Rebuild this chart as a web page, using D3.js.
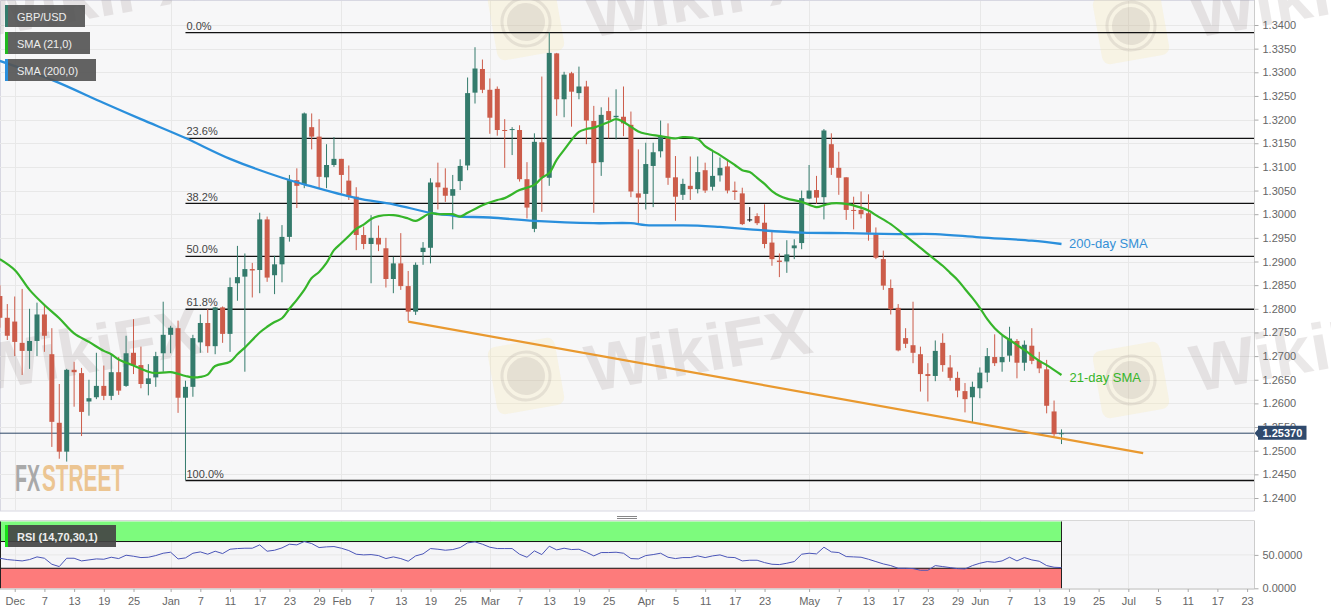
<!DOCTYPE html>
<html><head><meta charset="utf-8">
<script src="https://cdn.jsdelivr.net/npm/d3@7"></script>
<style>html,body{margin:0;padding:0;background:#fff;overflow:hidden}svg{display:block;font-family:"Liberation Sans",Arial,sans-serif}</style>
</head><body><svg id="c" width="1331" height="615"></svg>
<script>
const firstBar=-1;
const highs=[1.2850,1.2810,1.2826,1.2842,1.2800,1.2813,1.2810,1.2759,1.2641,1.2673,
1.2688,1.2675,1.2650,1.2707,1.2680,1.2702,1.2698,1.2743,1.2778,1.2720,
1.2683,1.2709,1.2815,1.2764,1.2775,1.2648,1.2745,1.2788,1.2800,1.2804,
1.2805,1.2866,1.2933,1.2917,1.2897,1.3003,1.2995,1.2912,1.2977,1.3083,
1.3097,1.3215,1.3213,1.3201,1.3148,1.3163,1.3117,1.3103,1.3057,1.2974,
1.2998,1.2976,1.2950,1.2910,1.2960,1.2880,1.2898,1.2941,1.3076,1.3109,
1.3097,1.3083,1.3116,1.3289,1.3353,1.3327,1.3287,1.3270,1.3201,1.3184,
1.3188,1.3110,1.3171,1.3291,1.3384,1.3341,1.3301,1.3301,1.3312,1.3282,
1.3229,1.3226,1.3247,1.3264,1.3270,1.3217,1.3137,1.3151,1.3151,1.3198,
1.3192,1.3123,1.3075,1.3122,1.3122,1.3109,1.3132,1.3120,1.3115,1.3069,
1.3056,1.3015,1.3002,1.3021,1.2963,1.2917,1.2945,1.2947,1.3050,1.3104,
1.3081,1.3180,1.3171,1.3132,1.3078,1.3037,1.3048,1.3042,1.2972,1.2923,
1.2862,1.2810,1.2759,1.2815,1.2720,1.2685,1.2733,1.2748,1.2702,1.2667,
1.2643,1.2646,1.2676,1.2717,1.2746,1.2743,1.2762,1.2736,1.2733,1.2759,
1.2709,1.2692,1.2606,1.2545];
const lows=[1.2760,1.2734,1.2700,1.2660,1.2673,1.2700,1.2709,1.2508,1.2483,1.2477,
1.2593,1.2531,1.2574,1.2609,1.2607,1.2607,1.2618,1.2635,1.2662,1.2632,
1.2617,1.2635,1.2667,1.2706,1.2580,1.2438,1.2614,1.2707,1.2707,1.2704,
1.2728,1.2709,1.2817,1.2667,1.2824,1.2833,1.2857,1.2831,1.2856,1.2942,
1.3013,1.3055,1.3137,1.3055,1.3055,1.3100,1.3044,1.3030,1.2924,1.2926,
1.2854,1.2922,1.2845,1.2833,1.2840,1.2774,1.2787,1.2893,1.2896,1.3010,
1.3026,1.2968,1.3051,1.3093,1.3234,1.3256,1.3170,1.3166,1.3098,1.3125,
1.3069,1.2991,1.2962,1.3005,1.3060,1.3208,1.3205,1.3185,1.3243,1.3148,
1.3003,1.3081,1.3160,1.3158,1.3165,1.3036,1.2979,1.3010,1.3015,1.3120,
1.3062,1.2986,1.3030,1.3030,1.3044,1.3045,1.3050,1.3069,1.3044,1.3030,
1.2977,1.2984,1.2977,1.2928,1.2891,1.2867,1.2876,1.2905,1.2926,1.3032,
1.3022,1.2989,1.3083,1.3041,1.2988,1.2968,1.2991,1.2944,1.2905,1.2840,
1.2788,1.2710,1.2717,1.2685,1.2625,1.2604,1.2647,1.2667,1.2648,1.2613,
1.2581,1.2559,1.2611,1.2645,1.2679,1.2667,1.2688,1.2653,1.2669,1.2683,
1.2664,1.2579,1.2531,1.2514];
const opens=[1.2827,1.2781,1.2773,1.2728,1.2711,1.2732,1.2788,1.2704,1.2559,1.2498,
1.2671,1.2664,1.2604,1.2613,1.2637,1.2616,1.2666,1.2637,1.2707,1.2681,
1.2641,1.2655,1.2706,1.2745,1.2759,1.2612,1.2635,1.2729,1.2770,1.2721,
1.2803,1.2747,1.2854,1.2868,1.2884,1.2882,1.2989,1.2871,1.2894,1.2952,
1.3072,1.3062,1.3184,1.3164,1.3078,1.3104,1.3117,1.3071,1.3037,1.2956,
1.2937,1.2950,1.2928,1.2863,1.2896,1.2848,1.2794,1.2920,1.2929,1.3067,
1.3056,1.3039,1.3070,1.3103,1.3257,1.3307,1.3263,1.3265,1.3178,1.3178,
1.3178,1.3074,1.2969,1.3152,1.3077,1.3340,1.3243,1.3298,1.3256,1.3270,
1.3197,1.3110,1.3218,1.3205,1.3206,1.3189,1.3044,1.3043,1.3102,1.3133,
1.3163,1.3078,1.3041,1.3060,1.3053,1.3093,1.3058,1.3082,1.3101,1.3050,
1.3044,1.2989,1.2996,1.2982,1.2940,1.2902,1.2900,1.2928,1.2939,1.3033,
1.3051,1.3036,1.3148,1.3098,1.3078,1.3009,1.3009,1.3002,1.2957,1.2905,
1.2844,1.2802,1.2738,1.2723,1.2704,1.2662,1.2658,1.2728,1.2676,1.2654,
1.2626,1.2613,1.2632,1.2665,1.2698,1.2687,1.2701,1.2732,1.2686,1.2722,
1.2690,1.2672,1.2583,1.2535];
const closes=[1.2781,1.2743,1.2730,1.2711,1.2732,1.2788,1.2743,1.2561,1.2498,1.2671,
1.2666,1.2582,1.2611,1.2637,1.2616,1.2666,1.2627,1.2706,1.2681,1.2641,
1.2653,1.2700,1.2745,1.2760,1.2612,1.2635,1.2738,1.2770,1.2721,1.2803,
1.2747,1.2846,1.2867,1.2884,1.2881,1.2989,1.2866,1.2894,1.2952,1.3072,
1.3060,1.3213,1.3164,1.3079,1.3104,1.3117,1.3083,1.3037,1.2956,1.2937,
1.2950,1.2936,1.2863,1.2896,1.2848,1.2794,1.2893,1.2929,1.3067,1.3057,
1.3039,1.3053,1.3102,1.3256,1.3308,1.3263,1.3204,1.3178,1.3176,1.3180,
1.3074,1.3014,1.3153,1.3077,1.3341,1.3243,1.3295,1.3259,1.3270,1.3198,
1.3108,1.3210,1.3199,1.3208,1.3192,1.3048,1.3035,1.3106,1.3131,1.3163,
1.3077,1.3037,1.3064,1.3053,1.3089,1.3050,1.3081,1.3098,1.3050,1.3047,
1.2979,1.2989,1.2981,1.2937,1.2905,1.2899,1.2915,1.2934,1.3034,1.3050,
1.3035,1.3177,1.3098,1.3077,1.3009,1.3007,1.3000,1.2961,1.2908,1.2849,
1.2799,1.2712,1.2726,1.2707,1.2662,1.2658,1.2711,1.2681,1.2654,1.2627,
1.2609,1.2635,1.2665,1.2700,1.2685,1.2698,1.2737,1.2686,1.2724,1.2690,
1.2674,1.2595,1.2535,1.2537];
const sma21Bars=[-1,1,3,5,7,9,11,13,14,15,17,19,20,22,24,25,26,27,28,30,31,32,34,35,36,37,38,39,40,41,42,43,44,45,46,47,48,49,50,52,54,55,57,58,60,61,62,63,64,66,67,69,71,72,73,74,75,77,78,79,81,82,83,84,85,86,88,90,91,93,94,95,96,98,99,100,101,102,103,104,105,107,109,110,111,113,115,116,117,119,121,123,124,126,127,128,129,130,131,132,133,134,135,137,139,140,142];
const sma21=[1.2905,1.2882,1.2840,1.2808,1.2780,1.2748,1.2730,1.2711,1.2704,1.2693,1.2680,1.2667,1.2664,1.2666,1.2658,1.2655,1.2656,1.2661,1.2679,1.2688,1.2704,1.2718,1.2750,1.2762,1.2772,1.2780,1.2800,1.2819,1.2840,1.2865,1.2878,1.2897,1.2924,1.2939,1.2954,1.2969,1.2978,1.2990,1.2996,1.2998,1.2991,1.2986,1.3002,1.3000,1.3000,1.2995,1.3003,1.3011,1.3019,1.3030,1.3034,1.3051,1.3062,1.3077,1.3087,1.3115,1.3136,1.3174,1.3180,1.3183,1.3195,1.3201,1.3195,1.3185,1.3175,1.3170,1.3165,1.3160,1.3163,1.3159,1.3144,1.3134,1.3125,1.3104,1.3093,1.3089,1.3077,1.3064,1.3049,1.3039,1.3033,1.3026,1.3015,1.3019,1.3023,1.3022,1.3014,1.3008,1.2998,1.2979,1.2954,1.2929,1.2916,1.2891,1.2876,1.2861,1.2842,1.2823,1.2802,1.2778,1.2759,1.2745,1.2734,1.2713,1.2690,1.2681,1.2660];
const sma200Bars=[-1,6,13,18,24,30,37,40,47,52,57,60,61,65,71,79,84,86,93,96,100,107,113,120,125,131,138,142];
const sma200=[1.3324,1.3284,1.3235,1.3201,1.3161,1.3117,1.3077,1.3063,1.3034,1.3021,1.3003,1.2997,1.2995,1.2993,1.2986,1.2981,1.2981,1.2977,1.2976,1.2973,1.2968,1.2961,1.2960,1.2958,1.2958,1.2951,1.2944,1.2937];
const rsi=[45,43,42,41,43,47,45,36,32.5,45,45,41,42.5,44,43.5,46.5,44.5,49.5,48,46,46.5,49,52.5,54,44,45.5,52.5,54.5,51,55.5,52,58.5,59.5,60,60,65,55.5,57,60.5,66,65,70,67,61,62,62.5,60,56.5,51,50,50.5,49,44.5,47,44.5,40.5,48.5,51.5,59.5,58.5,57,58,61,68,69.5,66,61.5,59.5,59.5,59.5,51,46.5,56,50.5,63,57.5,60,58,58.5,54,48.5,53.5,53.5,54,52.5,44.5,44,49,50.5,52.5,46.5,44.5,46,46,48.5,46,48.5,50,46.5,46,41,42,42,38.5,36,35.5,37.5,40,51,52.5,51.5,61.5,54.5,53.5,47.5,47,46.5,43.5,40,36.5,34,30,30,29.5,27,27,34,32.5,31,29.5,29,34,37.5,40,39,41,46.5,41,46,42.5,40.5,34,31.5,31];
const fibLevels=[1.3384,1.31605,1.3023,1.2911,1.2799,1.2437];
const fibLabels=["0.0%","23.6%","38.2%","50.0%","61.8%","100.0%"];
const fibStartBar=24;
const trendBars=[54,153];
const trendValues=[1.2773,1.2495];
const lastPrice=1.2537;
const priceTicks=[1.24,1.245,1.25,1.255,1.26,1.265,1.27,1.275,1.28,1.285,1.29,1.295,1.30,1.305,1.31,1.315,1.32,1.325,1.33,1.335,1.34];
const rsiTicks=[0,50];
const rsiLevels=[30,70];
const timeBars=[1,5,9,13,17,22,26,30,34,38,42,45,49,53,57,61,65,69,73,77,81,86,90,94,98,102,108,112,116,120,124,128,131,135,139,143,147,151,155,159,163,167];
const timeLabels=["Dec","7","13","19","25","Jan","7","11","17","23","29","Feb","7","13","19","25","Mar","7","13","19","25","Apr","5","11","17","23","May","7","13","17","23","29","Jun","7","13","19","25","Jul","5","11","17","23"];
const monthBars=[1,22,45,65,86,108,131,151];
const legendLabels=["GBP/USD","SMA (21,0)","SMA (200,0)"];

const PL=0,PR=1254.5,PT=1,PB=511,RT=521,RB=589;
const svg=d3.select("#c");
const x=d3.scaleLinear().domain([0,142]).range([7.3,1061.5]);
const y=d3.scaleLinear().domain([1.24,1.34]).range([498,25]);
const r=d3.scaleLinear().domain([0,100]).range([588.3,521.5]);

svg.append("rect").attr("width",1331).attr("height",615).attr("fill","#fff");
svg.append("rect").attr("x",PL).attr("y",PT).attr("width",PR-PL).attr("height",PB-PT).attr("fill","#f7f7f8");
svg.append("rect").attr("x",PL).attr("y",RT).attr("width",PR-PL).attr("height",RB-RT).attr("fill","#f5f5f7");
svg.append("path").attr("d",`M0.5,${PB}V0.5H${PR}V${PB}H0`).attr("fill","none").attr("stroke","#d8d8e2");
svg.append("path").attr("d",`M0,${RT-.5}H${PR}V${RB}H0`).attr("fill","none").attr("stroke","#d8d8d8");

// grid
const grid=svg.append("g").attr("stroke","#e8e8e8").attr("stroke-width",1);
grid.selectAll(".h").data(priceTicks).join("line").attr("x1",PL).attr("x2",PR).attr("y1",d=>Math.round(y(d))+.5).attr("y2",d=>Math.round(y(d))+.5);
const vGrid=[...monthBars];
grid.selectAll(".v").data(vGrid).join("line").attr("y1",PT).attr("y2",PB).attr("x1",d=>Math.round(x(d))+.5).attr("x2",d=>Math.round(x(d))+.5);
grid.selectAll(".v2").data(vGrid).join("line").attr("y1",RT).attr("y2",RB).attr("x1",d=>Math.round(x(d))+.5).attr("x2",d=>Math.round(x(d))+.5);
grid.append("line").attr("x1",PL).attr("x2",PR).attr("y1",r(50)).attr("y2",r(50));

// watermark
const wm=svg.append("g");
[[-20,392],[590,392],[1195,392],[-20,38],[590,38],[1195,38]].forEach(p=>{
  wm.append("text").attr("transform",`translate(${p[0]},${p[1]}) rotate(-10)`).text("WikiFX")
    .attr("font-size",66).attr("font-weight","bold").attr("fill","#8a7c7c").attr("opacity",.17)
    .attr("textLength",228).attr("lengthAdjust","spacingAndGlyphs");
});
[[526,376],[1131,380],[526,22],[1131,26]].forEach(p=>{
  const g=wm.append("g").attr("transform",`translate(${p[0]},${p[1]}) rotate(-10)`);
  g.append("rect").attr("x",-34).attr("y",-34).attr("width",68).attr("height",68).attr("rx",8).attr("fill","#f6e9a8").attr("opacity",.25);
  g.append("circle").attr("r",19).attr("fill","#8a7c7c").attr("opacity",.16);
  g.append("circle").attr("r",24).attr("fill","none").attr("stroke","#8a7c7c").attr("stroke-width",3).attr("opacity",.16);
});

// fib
const fib=svg.append("g");
fib.selectAll("line").data(fibLevels).join("line").attr("x1",x(fibStartBar)).attr("x2",PR)
  .attr("y1",d=>y(d)).attr("y2",d=>y(d)).attr("stroke","#111").attr("stroke-width",1.3);
fib.selectAll("text").data(fibLevels).join("text").attr("x",x(fibStartBar)+1).attr("y",d=>y(d)-2.8)
  .text((d,i)=>fibLabels[i]).attr("font-size",11).attr("fill","#444");
svg.append("line").attr("x1",PL).attr("x2",PR).attr("y1",y(lastPrice)).attr("y2",y(lastPrice)).attr("stroke","#2c4666").attr("stroke-width",1);

// candles
const bars=d3.range(highs.length).map(k=>({b:k+firstBar,h:highs[k],l:lows[k],o:opens[k],c:closes[k]}));
const col=d=>d.c>d.o?"#347b6c":d.c<d.o?"#cc5c4a":"#111";
const cg=svg.append("g");
cg.selectAll("line").data(bars).join("line").attr("x1",d=>x(d.b)).attr("x2",d=>x(d.b)).attr("y1",d=>y(d.h)).attr("y2",d=>y(d.l)).attr("stroke",col).attr("stroke-width",1);
cg.selectAll("rect").data(bars).join("rect").attr("x",d=>x(d.b)-2.5).attr("width",5)
  .attr("y",d=>y(Math.max(d.o,d.c))).attr("height",d=>Math.max(1,Math.abs(y(d.o)-y(d.c)))).attr("fill",col);

// lines
const line=d3.line().x(d=>x(d[0])).y(d=>y(d[1])).curve(d3.curveCatmullRom.alpha(.5));
svg.append("path").attr("d",line(sma200Bars.map((b,i)=>[b,sma200[i]]))).attr("fill","none").attr("stroke","#2a8fdc").attr("stroke-width",2.3);
svg.append("path").attr("d",line(sma21Bars.map((b,i)=>[b,sma21[i]]))).attr("fill","none").attr("stroke","#36b52a").attr("stroke-width",2.2);
svg.append("path").attr("d",d3.line().x(d=>x(d[0])).y(d=>y(d[1]))(trendBars.map((b,i)=>[b,trendValues[i]]))).attr("fill","none").attr("stroke","#e9992f").attr("stroke-width",2.2);
svg.append("text").attr("x",1069).attr("y",248).text("200-day SMA").attr("font-size",13).attr("fill","#3590d6");
svg.append("text").attr("x",1069.5).attr("y",381.5).text("21-day SMA").attr("font-size",13).attr("fill","#36b52a");

// FXSTREET
const logo=svg.append("g").attr("font-family","'Liberation Sans Narrow','Liberation Sans',sans-serif").attr("font-weight","bold").attr("font-size",36);
logo.append("text").attr("x",15).attr("y",491).attr("textLength",25).attr("lengthAdjust","spacingAndGlyphs").attr("fill","#a9a9a9").text("FX");
logo.append("text").attr("x",42).attr("y",491).attr("textLength",82).attr("lengthAdjust","spacingAndGlyphs").attr("fill","#ecc592").text("STREET");

// legend
const legendW=[80,85,91],legendC=["#347b6c","#1fb81f","#2a8fdc"],legendY=[5,32,59];
legendLabels.forEach((t,i)=>{
  svg.append("rect").attr("x",5).attr("y",legendY[i]).attr("width",legendW[i]).attr("height",22).attr("fill","#555").attr("opacity",.92);
  svg.append("rect").attr("x",5).attr("y",legendY[i]).attr("width",3).attr("height",22).attr("fill",legendC[i]);
  svg.append("text").attr("x",17).attr("y",legendY[i]+15.5).text(t).attr("font-size",11).attr("fill","#eee");
});

// gripper
svg.append("path").attr("d","M617,516.5H637M617,518.5H637").attr("stroke","#888").attr("stroke-width",1);

// RSI
const xEnd=x(142);
svg.append("rect").attr("x",0).attr("width",xEnd).attr("y",r(100)).attr("height",r(70)-r(100)).attr("fill","#7dfb7d");
svg.append("rect").attr("x",0).attr("width",xEnd).attr("y",r(30)).attr("height",r(0)-r(30)).attr("fill","#fd7b7b");
svg.append("g").selectAll("line").data(rsiLevels).join("line").attr("x1",0).attr("x2",xEnd).attr("y1",d=>r(d)).attr("y2",d=>r(d)).attr("stroke","#111").attr("stroke-width",1);
svg.append("line").attr("x1",xEnd).attr("x2",xEnd).attr("y1",r(100)).attr("y2",r(0)).attr("stroke","#222");
svg.append("line").attr("x1",.5).attr("x2",.5).attr("y1",r(100)).attr("y2",r(0)).attr("stroke","#222");
svg.append("path").attr("d",d3.line().x((d,i)=>x(i+firstBar)).y(d=>r(d))(rsi)).attr("fill","none").attr("stroke","#4a55b8").attr("stroke-width",1);
svg.append("rect").attr("x",5).attr("y",525).attr("width",111).attr("height",22).attr("fill","#444").attr("opacity",.92);
svg.append("rect").attr("x",5).attr("y",525).attr("width",3).attr("height",22).attr("fill","#18e018");
svg.append("text").attr("x",17).attr("y",540.5).text("RSI (14,70,30,1)").attr("font-size",11).attr("font-weight","bold").attr("fill","#eee");

// axes
const axY=svg.append("g").attr("transform",`translate(${PR},0)`).call(d3.axisRight(y).tickValues(priceTicks).tickFormat(d3.format(".4f")).tickSize(4).tickPadding(4));
const axR=svg.append("g").attr("transform",`translate(${PR},0)`).call(d3.axisRight(r).tickValues(rsiTicks).tickFormat(d3.format(".4f")).tickSize(4).tickPadding(4));
const axX=svg.append("g").attr("transform",`translate(0,${RB})`).call(d3.axisBottom(x).tickValues(timeBars).tickFormat((d,i)=>timeLabels[i]).tickSize(3).tickPadding(5));
[axY,axR,axX].forEach(a=>{a.select(".domain").attr("stroke","#ccc");a.selectAll("line").attr("stroke","#aaa");
  a.selectAll("text").attr("fill","#666").attr("font-size",11).attr("font-family","'Liberation Sans',Arial,sans-serif");});
axR.select(".domain").attr("d",`M0,${RT}V${RB}`);
axY.select(".domain").attr("d",`M0,0V${PB}`);
axX.select(".domain").attr("d",`M0,0H${PR}`);

// last price tag
const tag=svg.append("g");
const ty=y(lastPrice);
tag.append("path").attr("d",`M1254.5,${ty}L1258,${ty-4}V${ty-7.5}H1306.5V${ty+6.5}H1258V${ty+4}Z`).attr("fill","#2f4a6d");
tag.append("text").attr("x",1262.5).attr("y",ty+4).text(lastPrice.toFixed(5)).attr("font-size",11).attr("font-weight","bold").attr("fill","#fff");
</script></body></html>
